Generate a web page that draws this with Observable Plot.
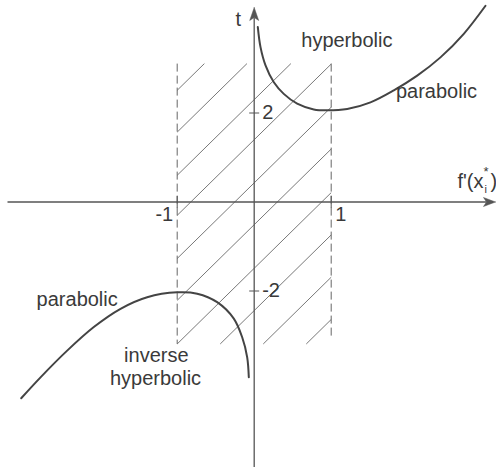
<!DOCTYPE html>
<html>
<head>
<meta charset="utf-8">
<script src="https://cdn.jsdelivr.net/npm/d3@7"></script>
<script src="https://cdn.jsdelivr.net/npm/@observablehq/plot@0.6"></script>
<style>
  html, body { margin: 0; padding: 0; background: #fff; }
</style>
</head>
<body>
<div id="chart"></div>
<script>
// ---- data ----
// upper branch: hyperbolic (0<x<1) then parabolic (x>1)
const upperX = [0.047, 0.082, 0.147, 0.255, 0.384, 0.558, 0.774, 0.948, 1.208, 1.51, 1.813, 2.117, 2.419, 2.722, 3.004];
const upperT = [3.93, 3.48, 3.07, 2.69, 2.43, 2.21, 2.08, 2.06, 2.09, 2.24, 2.51, 2.84, 3.25, 3.78, 4.41];
// lower branch: parabolic (x<-1) then inverse hyperbolic (-1<x<0)
const lowerX = [-3.026, -2.775, -2.429, -2.083, -1.736, -1.39, -1.0, -0.74, -0.481, -0.265, -0.156, -0.091, -0.07];
const lowerT = [-4.41, -3.94, -3.34, -2.81, -2.40, -2.14, -2.03, -2.06, -2.25, -2.62, -3.04, -3.49, -3.94];

// hatched band between f' = -1 and f' = 1
const bandX = [-1, 1];
const bandTop = [3.11, 3.11];
const bandBottom = [-3.19, -3.04];
const hatchIntercepts = [2.51, 1.57, 0.60, -0.30, -1.27, -2.21, -3.19, -4.14, -5.09, -6.04]; // t at f' = -1
const hatchSlope = 1.70;

// tick labels
const xTicks = [-1, 1];
const xTickLabels = ["-1", "1"];
const tTicks = [-2, 2];
const tTickLabels = ["-2", "2"];

// text annotations
const annLabels = ["hyperbolic", "parabolic", "parabolic", "inverse", "hyperbolic"];
const annX = [1.203, 2.368, -2.299, -1.271, -1.282];
const annT = [3.479, 2.342, -2.326, -3.60, -4.108];

// ---- layout ----
const W = 496, H = 467;
const pxPerX = 77, pxPerT = 44.5;
const originPx = [253.7, 201.5];
const xMin = -originPx[0] / pxPerX, xMax = xMin + W / pxPerX;
const tMax = originPx[1] / pxPerT, tMin = tMax - H / pxPerT;

const upper = upperX.map((x, i) => ({x, t: upperT[i]}));
const lower = lowerX.map((x, i) => ({x, t: lowerT[i]}));

// hatch segments clipped to the band rectangle
const tTop = Math.min(...bandTop), tB = bandBottom[0];
const hatch = [];
hatchIntercepts.forEach((t0) => {
  const lo = Math.max(-1, -1 + (tB - t0) / hatchSlope);
  const hi = Math.min(1, -1 + (tTop - t0) / hatchSlope);
  if (lo < hi) hatch.push({x1: lo, y1: t0 + hatchSlope * (lo + 1), x2: hi, y2: t0 + hatchSlope * (hi + 1)});
});
const dashed = bandX.map((x, i) => ({x, y1: bandTop[i], y2: bandBottom[i]}));

// axes with arrowheads
const xTip = (495 - originPx[0]) / pxPerX, xBack = xTip - 12 / pxPerX, xNotch = xTip - 9 / pxPerX;
const tTip = (originPx[1] - 7) / pxPerT, tBack = tTip - 13 / pxPerT, tNotch = tTip - 10 / pxPerT;
const hwX = 4.5 / pxPerX, hwT = 4.5 / pxPerT;
const xArrow = [{x: xTip, t: 0}, {x: xBack, t: hwT}, {x: xNotch, t: 0}, {x: xBack, t: -hwT}, {x: xTip, t: 0}];
const tArrow = [{x: 0, t: tTip}, {x: hwX, t: tBack}, {x: 0, t: tNotch}, {x: -hwX, t: tBack}, {x: 0, t: tTip}];

const font = "Liberation Sans, Arial, Helvetica, sans-serif";
const ink = "#3a3a3a";
const ann = annLabels.map((s, i) => ({s, x: annX[i], t: annT[i]}));
const xTickData = xTicks.map((v, i) => ({v, s: xTickLabels[i]}));
const tTickData = tTicks.map((v, i) => ({v, s: tTickLabels[i]}));

const chart = Plot.plot({
  width: W, height: H, margin: 0,
  x: {domain: [xMin, xMax], axis: null},
  y: {domain: [tMin, tMax], axis: null},
  style: {background: "#fff"},
  marks: [
    // hatching
    Plot.link(hatch, {x1: "x1", y1: "y1", x2: "x2", y2: "y2", stroke: "#555", strokeWidth: 0.8}),
    // dashed band edges
    Plot.link(dashed, {x1: "x", x2: "x", y1: "y1", y2: "y2", stroke: "#666", strokeWidth: 1, strokeDasharray: "8,4"}),
    // axes
    Plot.link([{x1: (7 - originPx[0]) / pxPerX, x2: xNotch, y: 0}], {x1: "x1", x2: "x2", y1: "y", y2: "y", stroke: "#555", strokeWidth: 1.3}),
    Plot.link([{y1: tMin, y2: tNotch, x: 0}], {x1: "x", x2: "x", y1: "y1", y2: "y2", stroke: "#555", strokeWidth: 1.3}),
    Plot.line(xArrow, {x: "x", y: "t", fill: "#555", stroke: "#555", strokeWidth: 0.5}),
    Plot.line(tArrow, {x: "x", y: "t", fill: "#555", stroke: "#555", strokeWidth: 0.5}),
    // ticks
    Plot.link(xTicks, {x1: d => d, x2: d => d, y1: 6 / pxPerT, y2: -6 / pxPerT, stroke: "#555", strokeWidth: 1}),
    Plot.link(tTicks, {y1: d => d, y2: d => d, x1: -5 / pxPerX, x2: 5 / pxPerX, stroke: "#555", strokeWidth: 1}),
    // curves
    Plot.line(upper, {x: "x", y: "t", curve: "catmull-rom", stroke: "#444", strokeWidth: 2}),
    Plot.line(lower, {x: "x", y: "t", curve: "catmull-rom", stroke: "#444", strokeWidth: 2}),
    // tick labels
    Plot.text(xTickData.filter(d => d.v < 0), {x: "v", y: 0, text: "s", textAnchor: "end", dx: -4, dy: 13, fontSize: 20, fontFamily: font, fill: ink}),
    Plot.text(xTickData.filter(d => d.v > 0), {x: "v", y: 0, text: "s", textAnchor: "start", dx: 4, dy: 13, fontSize: 20, fontFamily: font, fill: ink}),
    Plot.text(tTickData, {x: 0, y: "v", text: "s", textAnchor: "start", dx: 8, fontSize: 20, fontFamily: font, fill: ink}),
    // axis titles
    Plot.text(["t"], {x: 0, y: tTip, dx: -16, dy: 18, text: d => d, lineAnchor: "bottom", fontSize: 20, fontFamily: font, fill: ink}),
    Plot.text(["f'(x"], {x: xTip, y: 0, dx: -12, dy: -14, text: d => d, textAnchor: "end", lineAnchor: "bottom", fontSize: 20, fontFamily: font, fill: ink}),
    Plot.text(["*"], {x: xTip, y: 0, dx: -12, dy: -26, text: d => d, textAnchor: "start", lineAnchor: "bottom", fontSize: 13, fontFamily: font, fill: ink}),
    Plot.text(["i"], {x: xTip, y: 0, dx: -11, dy: -9, text: d => d, textAnchor: "start", lineAnchor: "bottom", fontSize: 11, fontFamily: font, fill: ink}),
    Plot.text([")"], {x: xTip, y: 0, dx: -5, dy: -14, text: d => d, textAnchor: "start", lineAnchor: "bottom", fontSize: 20, fontFamily: font, fill: ink}),
    // region labels
    Plot.text(ann, {x: "x", y: "t", text: "s", lineAnchor: "bottom", fontSize: 20, fontFamily: font, fill: ink})
  ]
});
document.getElementById("chart").appendChild(chart);
</script>
</body>
</html>
